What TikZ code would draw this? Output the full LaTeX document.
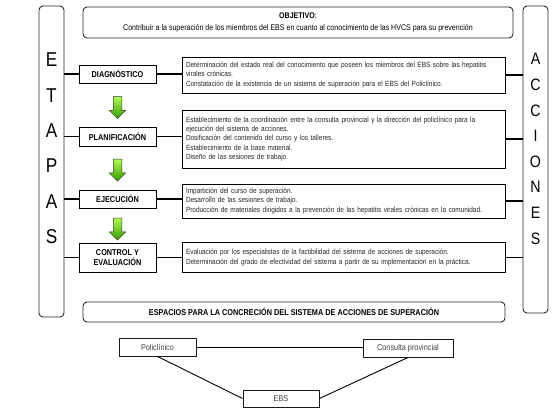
\documentclass[tikz,border=0pt]{standalone}
\usepackage{fontspec}
\setmainfont{Liberation Sans}[FakeStretch=0.86]
\usetikzlibrary{shapes.arrows}

\begin{document}
\begin{tikzpicture}[x=1pt,y=-1pt,
        outer/.style={draw=black!85,rounded corners=4pt,line width=0.9pt,inner sep=0pt},
        stage/.style={draw,line width=1pt,minimum width=77pt,inner sep=1pt,align=center,font=\fontsize{8.5}{10}\selectfont\bfseries},
        action/.style={draw,line width=1pt,minimum width=323pt,text width=315pt,inner xsep=4pt,align=left,text=black!85,font=\fontsize{7.5}{9.4}\selectfont},
        place/.style={draw=black!90,line width=0.9pt,inner sep=0pt,text=black!75,font=\fontsize{8.5}{9}\selectfont},
        link/.style={line width=1.8pt},
        greenarrow/.style={single arrow,shape border rotate=270,draw=black!80,line width=0.5pt,
            top color=green!45!yellow!70!white,bottom color=green!50!black!80!yellow,
            minimum height=22pt,inner sep=4pt,single arrow head extend=4pt,single arrow head indent=0pt}]
    \useasboundingbox (0,0) rectangle (556,415);

    \node[outer,minimum width=25pt,minimum height=311pt] (etapas) at (51.5,161.5) {};
    \node[outer,minimum width=25pt,minimum height=307pt] (acciones) at (535.5,159.5) {};
    \node[align=center,font=\fontsize{20}{35.4}\selectfont] (etapastext) at (51.5,148.5) {E\\T\\A\\P\\A\\S};
    \node[align=center,font=\fontsize{16.5}{25.6}\selectfont] (accionestext) at (535.5,149) {A\\C\\C\\I\\O\\N\\E\\S};

    \node[outer,minimum width=430pt,minimum height=31pt,align=center,font=\fontsize{8.2}{11.5}\selectfont] (objetivo) at (298,22.5)
        {\textbf{OBJETIVO}:\\Contribuir a la superación de los miembros del EBS en cuanto al conocimiento de las HVCS para su prevención};

    \node[stage,minimum height=18pt] (diag) at (117.5,74) {DIAGNÓSTICO};
    \node[stage,minimum height=19pt] (plan) at (117.5,136.5) {PLANIFICACIÓN};
    \node[stage,minimum height=18pt] (ejec) at (117.5,199) {EJECUCIÓN};
    \node[stage,minimum height=29pt] (ctrl) at (117.5,257.5) {CONTROL Y\\EVALUACIÓN};

    \node[greenarrow] (arr1) at (117.5,105.5) {};
    \node[greenarrow] (arr2) at (117.5,168) {};
    \node[greenarrow] (arr3) at (117.5,227) {};

    \node[action,minimum height=36pt] (acc1) at (343.5,75) {Determinación del estado real del conocimiento que poseen los miembros del EBS sobre las hepatitis\\virales crónicas.\\Constatación de la existencia de un sistema de superación para el EBS del Policlínico.};
    \node[action,minimum height=58pt] (acc2) at (343.5,139) {Establecimiento de la coordinación entre la consulta provincial y la dirección del policlínico para la\\ejecución del sistema de acciones.\\Dosificación del contenido del curso y los talleres.\\Establecimiento de la base material.\\Diseño de las sesiones de trabajo.};
    \node[action,minimum height=34pt] (acc3) at (343.5,201) {Impartición del curso de superación.\\Desarrollo de las sesiones de trabajo.\\Producción de materiales dirigidos a la prevención de las hepatitis virales crónicas en la comunidad.};
    \node[action,minimum height=30pt] (acc4) at (343.5,257.5) {Evaluación por los especialistas de la factibilidad del sistema de acciones de superación.\\Determinación del grado de efectividad del sistema a partir de su implementación en la práctica.};

    \draw[link] (diag.west) -- (diag.west -| etapas.east);
    \draw[link] (plan.west) -- (plan.west -| etapas.east);
    \draw[link] (ejec.west) -- (ejec.west -| etapas.east);
    \draw[link] (ctrl.west) -- (ctrl.west -| etapas.east);

    \draw[link] (diag.east) -- (diag.east -| acc1.west);
    \draw[link] (plan.east) -- (plan.east -| acc2.west);
    \draw[link] (ejec.east) -- (ejec.east -| acc3.west);
    \draw[link] (ctrl.east) -- (ctrl.east -| acc4.west);

    \draw[link] (acc1.east) -- (acc1.east -| acciones.west);
    \draw[link] (acc2.east) -- (acc2.east -| acciones.west);
    \draw[link] (acc3.east) -- (acc3.east -| acciones.west);
    \draw[link] (acc4.east) -- (acc4.east -| acciones.west);

    \node[outer,minimum width=422pt,minimum height=20pt,font=\fontsize{8.5}{10}\selectfont\bfseries] (espacios) at (294,312)
        {ESPACIOS PARA LA CONCRECIÓN DEL SISTEMA DE ACCIONES DE SUPERACIÓN};

    \node[place,minimum width=77pt,minimum height=18pt] (poli) at (157.5,347) {Policlínico};
    \node[place,minimum width=90pt,minimum height=18pt] (consulta) at (408,348) {Consulta provincial};
    \node[place,minimum width=76pt,minimum height=17pt] (ebs) at (281,398.5) {EBS};

    \draw[line width=0.9pt] (poli.east) -- (poli.east -| consulta.west);
    \draw[line width=0.9pt] (poli.south) -- (ebs.west);
    \draw[line width=0.9pt] (consulta.south) -- (ebs.east);
\end{tikzpicture}
\end{document}
